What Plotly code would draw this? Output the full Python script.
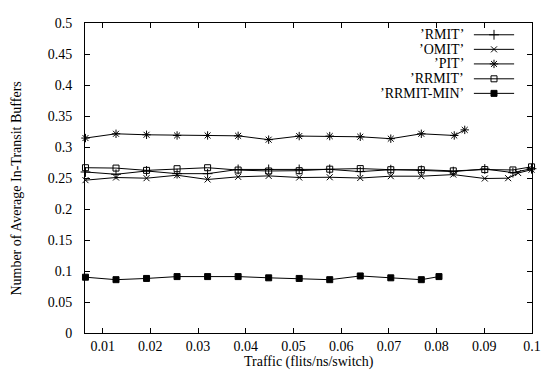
import plotly.graph_objects as go

# ---- data ----
x_grid = [0.0064, 0.0128, 0.0192, 0.0256, 0.032, 0.0384, 0.0448, 0.0512, 0.0576, 0.064, 0.0704, 0.0768]

rmit_x = x_grid + [0.0835, 0.0901, 0.0960, 0.0999]
rmit_y = [0.2597, 0.2560, 0.2613, 0.2570, 0.2570, 0.2638, 0.2638, 0.2638, 0.2639, 0.2603,
          0.2634, 0.2623, 0.2603, 0.2645, 0.2587, 0.2650]

omit_x = x_grid + [0.0835, 0.0901, 0.0950, 0.0971, 0.0999]
omit_y = [0.2465, 0.2508, 0.2497, 0.2545, 0.2476, 0.2519, 0.2534, 0.2508, 0.2512, 0.2500,
          0.2529, 0.2529, 0.2555, 0.2492, 0.2497, 0.2580, 0.2634]

pit_x = x_grid + [0.0837, 0.0859]
pit_y = [0.3144, 0.3213, 0.3197, 0.3186, 0.3186, 0.3180, 0.3118, 0.3176, 0.3176, 0.3165,
         0.3134, 0.3213, 0.3186, 0.3276]

rrmit_x = x_grid + [0.0835, 0.0901, 0.0960, 0.0999]
rrmit_y = [0.2666, 0.2660, 0.2623, 0.2650, 0.2666, 0.2628, 0.2613, 0.2618, 0.2642, 0.2652,
           0.2634, 0.2634, 0.2615, 0.2636, 0.2630, 0.2680]

rrmitmin_x = x_grid + [0.0805]
rrmitmin_y = [0.0900, 0.0860, 0.0880, 0.0910, 0.0910, 0.0910, 0.0890, 0.0880, 0.0860, 0.0920,
              0.0890, 0.0860, 0.0910]

series_names = ["\u2019RMIT\u2019", "\u2019OMIT\u2019", "\u2019PIT\u2019", "\u2019RRMIT\u2019", "\u2019RRMIT-MIN\u2019"]
x_ticks = [0.01, 0.02, 0.03, 0.04, 0.05, 0.06, 0.07, 0.08, 0.09, 0.1]
y_ticks = [0, 0.05, 0.1, 0.15, 0.2, 0.25, 0.3, 0.35, 0.4, 0.45, 0.5]

# ---- styling ----
FONT = "Liberation Serif, DejaVu Serif, serif"
markers = [
    dict(symbol="cross-thin-open", size=7, color="black", line=dict(color="black", width=1)),
    dict(symbol="x-thin-open", size=6, color="black", line=dict(color="black", width=1)),
    dict(symbol="asterisk-open", size=7, color="black", line=dict(color="black", width=1)),
    dict(symbol="square-open", size=6, color="black", line=dict(color="black", width=1)),
    dict(symbol="square", size=6, color="black", line=dict(color="black", width=1)),
]
data = [(rmit_x, rmit_y), (omit_x, omit_y), (pit_x, pit_y), (rrmit_x, rrmit_y), (rrmitmin_x, rrmitmin_y)]

fig = go.Figure()
for (xs, ys), name, mk in zip(data, series_names, markers):
    fig.add_trace(go.Scatter(x=xs, y=ys, mode="lines+markers", name=name,
                             line=dict(color="black", width=1), marker=mk,
                             showlegend=False, cliponaxis=False))

# gnuplot-style key (text right, sample line + marker left) on an overlay axis
key_rows = [0.962, 0.915, 0.868, 0.820, 0.773]
for name, mk, ky in zip(series_names, markers, key_rows):
    fig.add_trace(go.Scatter(x=[0.870, 0.960], y=[ky, ky], mode="lines", xaxis="x2", yaxis="y2",
                             line=dict(color="black", width=1), showlegend=False, hoverinfo="skip"))
    fig.add_trace(go.Scatter(x=[0.915], y=[ky], mode="markers", xaxis="x2", yaxis="y2",
                             marker=mk, showlegend=False, hoverinfo="skip"))
    fig.add_annotation(text=name, xref="x2", yref="y2", x=0.850, y=ky, xanchor="right",
                       yanchor="middle", showarrow=False, borderpad=0,
                       font=dict(family=FONT, size=14, color="black"))

axis_common = dict(showline=True, linecolor="black", linewidth=1, mirror="allticks",
                   ticks="inside", ticklen=5, tickcolor="black", showgrid=False, zeroline=False,
                   tickfont=dict(family=FONT, size=14, color="black"))

# the page body has an 8px default margin, so the figure is sized to fit the window
fig.update_layout(
    width=541, height=363,
    margin=dict(l=77, r=8, t=8, b=38),
    paper_bgcolor="white", plot_bgcolor="white",
    font=dict(family=FONT, size=14, color="black"),
    xaxis=dict(range=[0.0063, 0.1], tickvals=x_ticks, ticktext=[str(v) for v in x_ticks],
               ticklabelstandoff=0, ticklabeloverflow="allow", **axis_common),
    yaxis=dict(range=[0, 0.5], tickvals=y_ticks, ticktext=[("%g" % v) for v in y_ticks],
               ticklabelstandoff=9, **axis_common),
    xaxis2=dict(range=[0, 1], overlaying="x", visible=False, domain=[0, 1]),
    yaxis2=dict(range=[0, 1], overlaying="y", visible=False),
)
fig.add_annotation(text="Traffic (flits/ns/switch)", xref="paper", yref="paper", x=0.5, y=-0.0946,
                   xanchor="center", yanchor="middle", showarrow=False,
                   font=dict(family=FONT, size=14, color="black"))
fig.add_annotation(text="Number of Average In-Transit Buffers", xref="paper", yref="paper",
                   x=-0.1535, y=0.467, textangle=-90, xanchor="center", yanchor="middle",
                   showarrow=False, font=dict(family=FONT, size=14, color="black"))

fig.write_html("out.html")
